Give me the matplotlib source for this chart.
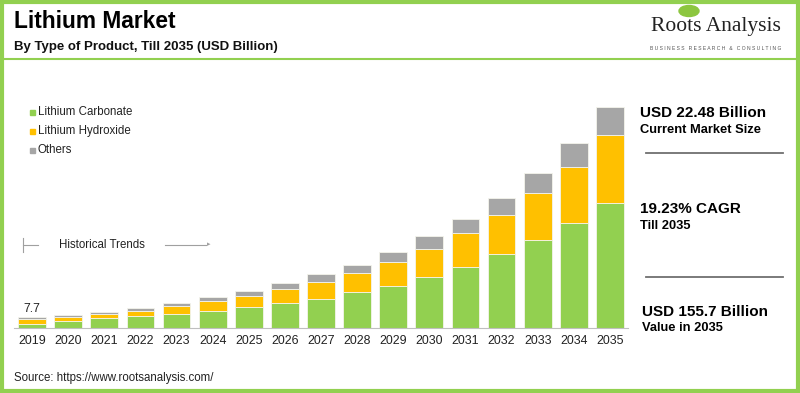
import matplotlib.pyplot as plt
from matplotlib.patches import Rectangle, Ellipse
from matplotlib.lines import Line2D

plt.rcParams['font.family'] = ['Liberation Sans', 'DejaVu Sans']

years = ['2019', '2020', '2021', '2022', '2023', '2024', '2025', '2026', '2027',
         '2028', '2029', '2030', '2031', '2032', '2033', '2034', '2035']
carbonate = [2.9, 5.2, 6.8, 8.5, 10.1, 12.3, 14.8, 17.4, 20.7, 25.4, 29.6,
             35.9, 43.0, 51.9, 61.7, 74.0, 88.1]
hydroxide = [3.3, 2.8, 3.3, 3.8, 5.1, 6.6, 8.0, 9.9, 11.5, 13.7, 16.7,
             19.7, 24.0, 27.5, 33.4, 39.5, 47.6]
others = [1.5, 0.9, 1.4, 1.6, 2.3, 2.8, 3.2, 4.2, 5.6, 5.6, 7.3,
          8.9, 9.9, 12.3, 14.1, 16.9, 20.0]
series_names = ['Lithium Carbonate', 'Lithium Hydroxide', 'Others']
colors = ['#92D050', '#FFC000', '#A6A6A6']

W, H = 800, 393
fig = plt.figure(figsize=(8, 3.93), dpi=100)


def fx(x):
    return x / W


def fy(y):
    return 1 - y / H


# bars
ax = fig.add_axes([fx(14), fy(328), fx(614), 227 / H])
x = range(len(years))
bottom = [0] * len(years)
for vals, c in zip([carbonate, hydroxide, others], colors):
    ax.bar(x, vals, bottom=bottom, width=0.77, color=c, edgecolor='#f4f4ec', linewidth=0.6)
    bottom = [b + v for b, v in zip(bottom, vals)]
ax.set_xlim(-0.5, len(years) - 0.5)
ax.set_ylim(0, 227 * 155.7 / 221)
ax.set_xticks(list(x))
ax.set_xticklabels(years, fontsize=8.9, color='#222222')
ax.tick_params(axis='x', length=0, pad=5)
ax.set_yticks([])
for s in ['top', 'right', 'left']:
    ax.spines[s].set_visible(False)
ax.spines['bottom'].set_color('#bfbfbf')
ax.patch.set_alpha(0)
ax.text(0, bottom[0] + 1.5, '7.7', ha='center', va='bottom', fontsize=8.7, color='#222222')

# legend
for i, (name, c) in enumerate(zip(series_names, colors)):
    yy = 112 + i * 19
    fig.patches.append(Rectangle((fx(30), fy(yy + 2.5)), fx(5), 5 / H, color=c,
                                 transform=fig.transFigure))
    fig.text(fx(38), fy(yy), name, fontsize=8.3, va='center', color='#222222')

# historical trends
fig.add_artist(Line2D([fx(23), fx(23)], [fy(238), fy(252)], color='#a0a0a0', lw=0.8))
fig.add_artist(Line2D([fx(23), fx(38)], [fy(245), fy(245)], color='#a0a0a0', lw=0.8))
fig.text(fx(59), fy(245), 'Historical Trends', fontsize=8.3, va='center', color='#222222')
fig.add_artist(Line2D([fx(165), fx(206)], [fy(245), fy(245)], color='#a0a0a0', lw=0.8))
fig.text(fx(210), fy(245), '\u25b8', fontsize=5, va='center', ha='right', color='#a0a0a0')

# title
fig.text(fx(14), fy(22), 'Lithium Market', fontsize=16.4, fontweight='bold', va='center')
fig.text(fx(14), fy(47), 'By Type of Product, Till 2035 (USD Billion)', fontsize=9.5,
         fontweight='bold', va='center', color='#111111')
fig.text(fx(14), fy(378), 'Source: https://www.rootsanalysis.com/', fontsize=8.3,
         va='center', color='#222222')

# logo
fig.patches.append(Ellipse((fx(689), fy(11)), fx(20), 11 / H, color='#8cc63f',
                           transform=fig.transFigure))
fig.text(fx(716), fy(27), 'Roots Analysis', fontsize=15.5, family='Liberation Serif',
         ha='center', va='center', color='#222222')
fig.text(fx(716), fy(48), 'B U S I N E S S   R E S E A R C H   &   C O N S U L T I N G',
         fontsize=3.6, ha='center', va='center', color='#555555')

# right panel
fig.text(fx(640), fy(113), 'USD 22.48 Billion', fontsize=11, fontweight='bold', va='center')
fig.text(fx(640), fy(130), 'Current Market Size', fontsize=9.3, fontweight='bold', va='center')
fig.add_artist(Line2D([fx(646), fx(783)], [fy(153), fy(153)], color='#707070', lw=1.3))
fig.text(fx(640), fy(209), '19.23% CAGR', fontsize=11, fontweight='bold', va='center')
fig.text(fx(640), fy(226), 'Till 2035', fontsize=9.3, fontweight='bold', va='center')
fig.add_artist(Line2D([fx(646), fx(783)], [fy(277), fy(277)], color='#707070', lw=1.3))
fig.text(fx(642), fy(312), 'USD 155.7 Billion', fontsize=11, fontweight='bold', va='center')
fig.text(fx(642), fy(328), 'Value in 2035', fontsize=9.3, fontweight='bold', va='center')

# frame and header line
green = '#92D050'
fig.add_artist(Line2D([0, 1], [fy(59), fy(59)], color=green, lw=1.5))
fig.patches.append(Rectangle((0.002, 0.004), 0.996, 0.992, fill=False, edgecolor=green,
                             lw=3, transform=fig.transFigure))

fig.savefig('out.png', dpi=100)
